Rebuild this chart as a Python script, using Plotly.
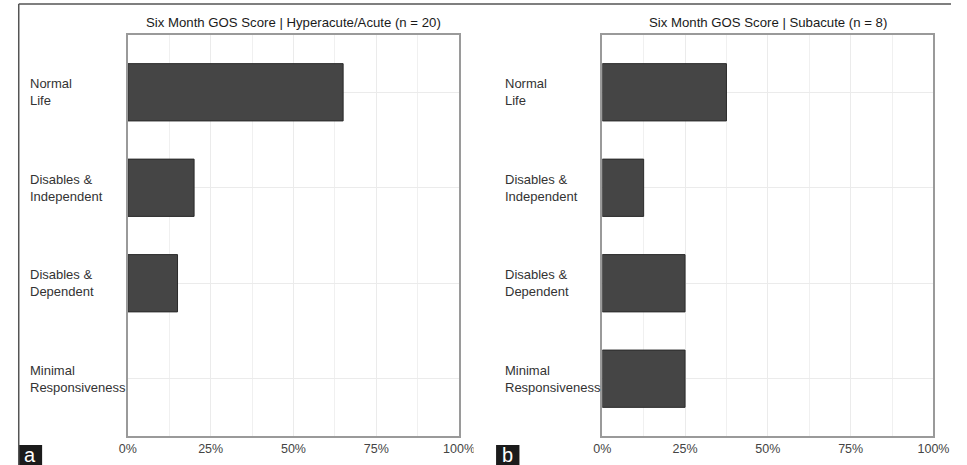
import plotly.graph_objects as go

# GOS outcome categories (top to bottom as displayed)
categories = ["Normal<br>Life", "Disables &<br>Independent", "Disables &<br>Dependent", "Minimal<br>Responsiveness"]
acute_pct = [65, 20, 15, 0]          # Hyperacute/Acute, n = 20
subacute_pct = [37.5, 12.5, 25, 25]  # Subacute, n = 8
x_ticks = [0, 25, 50, 75, 100]
x_tick_text = ["0%", "25%", "50%", "75%", "100%"]
titles = ["Six Month GOS Score | Hyperacute/Acute (n = 20)", "Six Month GOS Score | Subacute (n = 8)"]
panel_tags = ["a", "b"]

W, H = 967, 465
FONT = "Liberation Sans, Arial, sans-serif"

def px(x):
    return x / W

def py(y):
    return 1 - y / H

panels = [
    dict(values=acute_pct, x0=122, x1=462, label_x=20, tag_x=10),
    dict(values=subacute_pct, x0=609, x1=949, label_x=507, tag_x=500),
]
plot_top, plot_bottom = 35, 436

fig = go.Figure()
order = list(reversed(categories))
annotations = []
shapes = []

for i, p in enumerate(panels):
    xa = "x" if i == 0 else "x2"
    ya = "y" if i == 0 else "y2"
    fig.add_trace(go.Bar(
        x=p["values"], y=categories, orientation="h",
        xaxis=xa, yaxis=ya, width=0.6,
        marker=dict(color="#454545",
                    line=dict(color="#2a2a2a", width=[1 if v > 0 else 0 for v in p["values"]])),
        showlegend=False, hoverinfo="x+y",
    ))
    axis_common_x = dict(
        domain=[px(p["x0"]), px(p["x1"])], range=[0, 100],
        tickvals=x_ticks, ticktext=x_tick_text, ticks="",
        tickfont=dict(family=FONT, size=12.5, color="#444444"),
        showgrid=True, gridcolor="#ebebeb", gridwidth=1,
        minor=dict(dtick=12.5, tick0=0, showgrid=True, gridcolor="#f0f0f0", gridwidth=1),
        showline=True, mirror=True, linecolor="#9a9a9a", linewidth=1.5,
        zeroline=False, fixedrange=True,
    )
    axis_common_y = dict(
        domain=[py(plot_bottom), py(plot_top)],
        type="category", categoryorder="array", categoryarray=order,
        range=[-0.6, 3.6], showticklabels=False, ticks="",
        showgrid=True, gridcolor="#ebebeb", gridwidth=1,
        showline=True, mirror=True, linecolor="#9a9a9a", linewidth=1.5,
        zeroline=False, fixedrange=True,
    )
    if i == 0:
        fig.update_layout(xaxis=dict(anchor="y", **axis_common_x),
                          yaxis=dict(anchor="x", **axis_common_y))
    else:
        fig.update_layout(xaxis2=dict(anchor="y2", **axis_common_x),
                          yaxis2=dict(anchor="x2", **axis_common_y))

    # left-aligned category labels
    for c in categories:
        annotations.append(dict(
            text=c, x=px(p["label_x"]), xref="paper", xanchor="left",
            y=c, yref=ya, yanchor="middle", align="left", showarrow=False,
            font=dict(family=FONT, size=13, color="#333333"),
        ))
    # panel title
    annotations.append(dict(
        text=titles[i], x=px((p["x0"] + p["x1"]) / 2), xref="paper", xanchor="center",
        y=py(22), yref="paper", yanchor="middle", showarrow=False,
        font=dict(family=FONT, size=13.2, color="#1a1a1a"),
    ))
    # panel tag box
    shapes.append(dict(type="rect", xref="paper", yref="paper",
                       x0=px(p["tag_x"]), x1=px(p["tag_x"] + 24), y0=py(465), y1=py(445),
                       fillcolor="#1b1b1b", line=dict(width=0), layer="above"))
    annotations.append(dict(
        text=panel_tags[i], x=px(p["tag_x"] + 12), xref="paper", xanchor="center",
        y=py(455), yref="paper", yanchor="middle", showarrow=False,
        font=dict(family=FONT, size=20, color="#ffffff"),
    ))

# left panel is cropped just past its last tick label
shapes.append(dict(type="rect", xref="paper", yref="paper",
                   x0=px(477), x1=px(498), y0=py(456), y1=py(437),
                   fillcolor="#ffffff", line=dict(width=0), layer="above"))
# outer frame (top and left edges)
shapes.append(dict(type="line", xref="paper", yref="paper",
                   x0=px(10), x1=1, y0=py(4), y1=py(4),
                   line=dict(color="#555555", width=1.5), layer="above"))
shapes.append(dict(type="line", xref="paper", yref="paper",
                   x0=px(10), x1=px(10), y0=0, y1=py(4),
                   line=dict(color="#555555", width=1.5), layer="above"))

fig.update_layout(
    width=W, height=H, margin=dict(l=0, r=0, t=0, b=0),
    paper_bgcolor="#ffffff", plot_bgcolor="#ffffff",
    bargap=0.4, annotations=annotations, shapes=shapes,
    font=dict(family=FONT),
)

fig.write_html("out.html")
